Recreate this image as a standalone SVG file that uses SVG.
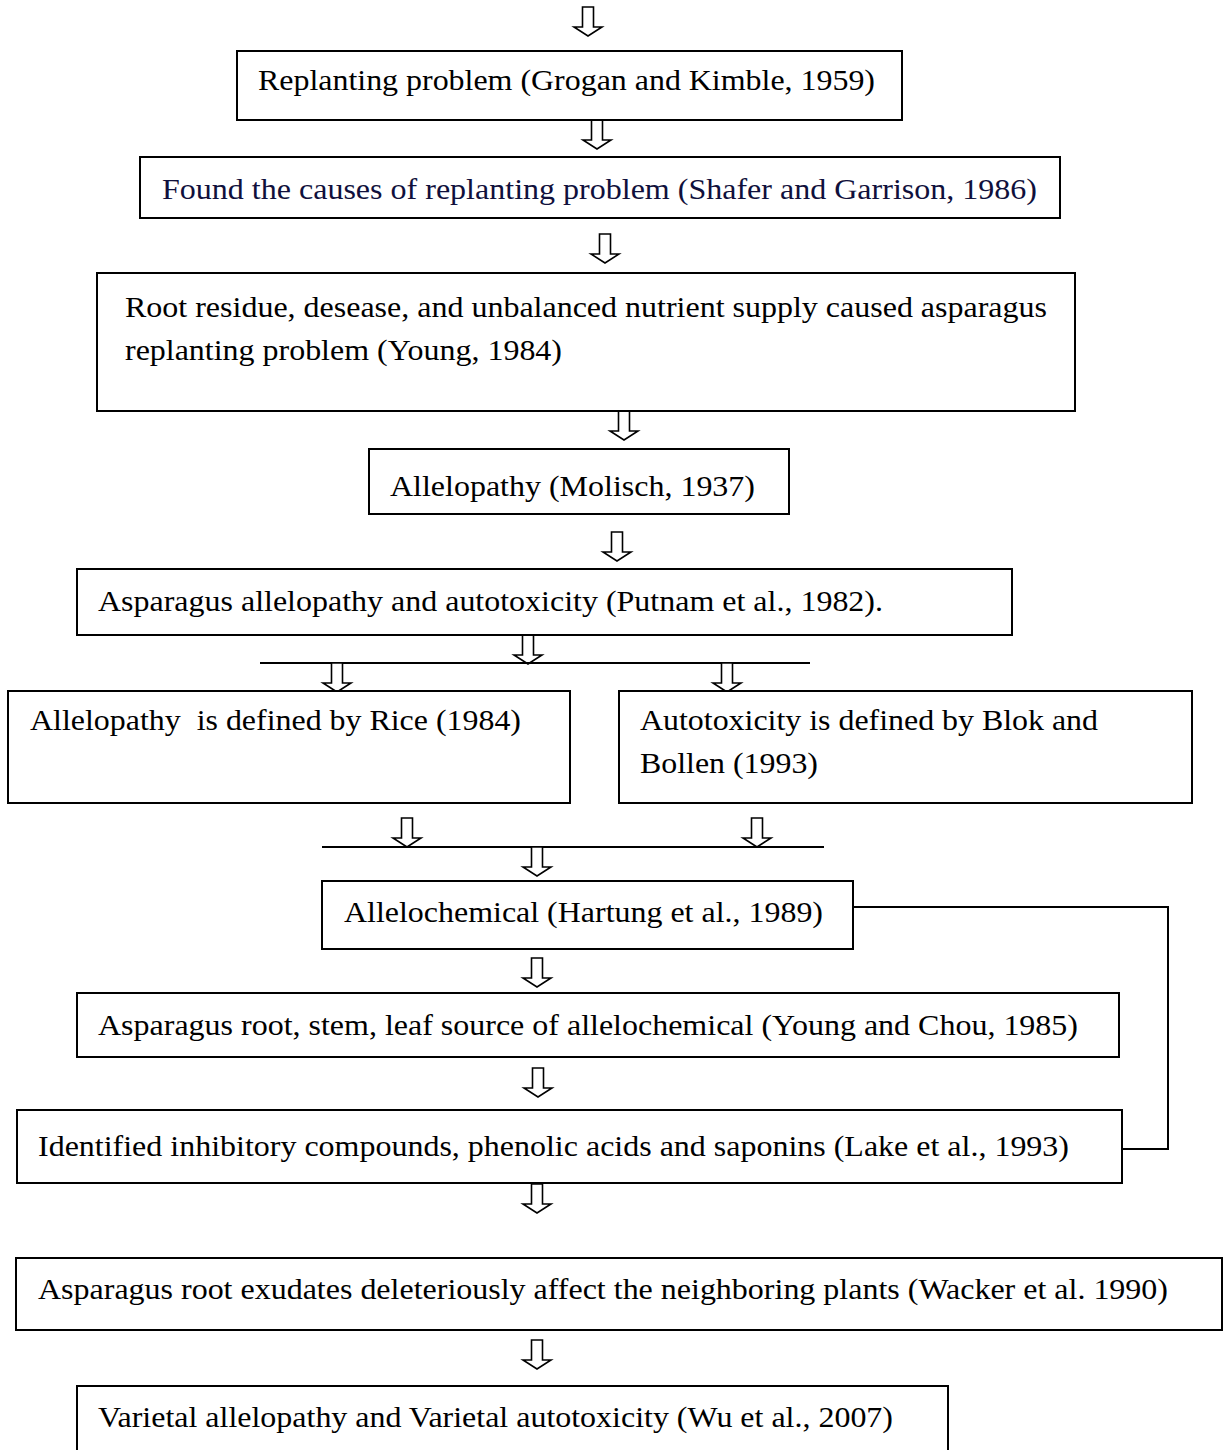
<svg xmlns="http://www.w3.org/2000/svg" xmlns:xlink="http://www.w3.org/1999/xlink" width="1229" height="1450" viewBox="0 0 1229 1450">
<style>
.box{fill:#fff;stroke:#000;stroke-width:2}
.t{font-family:"Liberation Serif","Times New Roman",serif;font-size:30px;fill:#000}
.navy{fill:#10103c}
.ln{fill:none;stroke:#000;stroke-width:2}
.ar{fill:#fff;stroke:#000;stroke-width:1.6;stroke-linejoin:miter}
</style>
<defs>
<path id="arr" d="M-5.5,0 H5.5 V20 H14 L0,29 L-14,20 H-5.5 Z"/>
</defs>
<rect width="1229" height="1450" fill="#fff"/>
<g id="connectors">
<use xlink:href="#arr" class="ar" x="588" y="7"/>
<use xlink:href="#arr" class="ar" x="597" y="120"/>
<use xlink:href="#arr" class="ar" x="605" y="234"/>
<use xlink:href="#arr" class="ar" x="624" y="411"/>
<use xlink:href="#arr" class="ar" x="617" y="532"/>
<use xlink:href="#arr" class="ar" x="528" y="635"/>
<line class="ln" x1="260" y1="663" x2="810" y2="663"/>
<use xlink:href="#arr" class="ar" x="337" y="663"/>
<use xlink:href="#arr" class="ar" x="727" y="663"/>
<use xlink:href="#arr" class="ar" x="407" y="818"/>
<use xlink:href="#arr" class="ar" x="757" y="818"/>
<line class="ln" x1="322" y1="847" x2="824" y2="847"/>
<use xlink:href="#arr" class="ar" x="537" y="847"/>
<use xlink:href="#arr" class="ar" x="537" y="958"/>
<use xlink:href="#arr" class="ar" x="538" y="1068"/>
<use xlink:href="#arr" class="ar" x="537" y="1184"/>
<use xlink:href="#arr" class="ar" x="537" y="1340"/>
<polyline class="ln" points="853,907 1168,907 1168,1149 1122,1149"/>
</g>
<g id="n1"><rect class="box" x="237" y="51" width="665" height="69"/><text class="t" x="258" y="90" textLength="617" lengthAdjust="spacingAndGlyphs">Replanting problem (Grogan and Kimble, 1959)</text></g>
<g id="n2"><rect class="box" x="140" y="157" width="920" height="61"/><text class="t navy" x="162" y="199" textLength="875" lengthAdjust="spacingAndGlyphs">Found the causes of replanting problem (Shafer and Garrison, 1986)</text></g>
<g id="n3"><rect class="box" x="97" y="273" width="978" height="138"/><text class="t" x="125" y="317" textLength="922" lengthAdjust="spacingAndGlyphs">Root residue, desease, and unbalanced nutrient supply caused asparagus</text><text class="t" x="125" y="360" textLength="437" lengthAdjust="spacingAndGlyphs">replanting problem (Young, 1984)</text></g>
<g id="n4"><rect class="box" x="369" y="449" width="420" height="65"/><text class="t" x="390" y="496" textLength="365" lengthAdjust="spacingAndGlyphs">Allelopathy (Molisch, 1937)</text></g>
<g id="n5"><rect class="box" x="77" y="569" width="935" height="66"/><text class="t" x="98" y="611" textLength="785" lengthAdjust="spacingAndGlyphs">Asparagus allelopathy and autotoxicity (Putnam et al., 1982).</text></g>
<g id="n6"><rect class="box" x="8" y="691" width="562" height="112"/><text class="t" x="30" y="730" xml:space="preserve" textLength="491" lengthAdjust="spacingAndGlyphs">Allelopathy  is defined by Rice (1984)</text></g>
<g id="n7"><rect class="box" x="619" y="691" width="573" height="112"/><text class="t" x="640" y="730" textLength="458" lengthAdjust="spacingAndGlyphs">Autotoxicity is defined by Blok and</text><text class="t" x="640" y="773" textLength="178" lengthAdjust="spacingAndGlyphs">Bollen (1993)</text></g>
<g id="n8"><rect class="box" x="322" y="881" width="531" height="68"/><text class="t" x="344" y="922" textLength="479" lengthAdjust="spacingAndGlyphs">Allelochemical (Hartung et al., 1989)</text></g>
<g id="n9"><rect class="box" x="77" y="993" width="1042" height="64"/><text class="t" x="98" y="1035" textLength="980" lengthAdjust="spacingAndGlyphs">Asparagus root, stem, leaf source of allelochemical (Young and Chou, 1985)</text></g>
<g id="n10"><rect class="box" x="17" y="1110" width="1105" height="73"/><text class="t" x="38" y="1156" textLength="1031" lengthAdjust="spacingAndGlyphs">Identified inhibitory compounds, phenolic acids and saponins (Lake et al., 1993)</text></g>
<g id="n11"><rect class="box" x="16" y="1258" width="1206" height="72"/><text class="t" x="38" y="1299" textLength="1130" lengthAdjust="spacingAndGlyphs">Asparagus root exudates deleteriously affect the neighboring plants (Wacker et al. 1990)</text></g>
<g id="n12"><rect class="box" x="77" y="1386" width="871" height="84"/><text class="t" x="98" y="1427" textLength="795" lengthAdjust="spacingAndGlyphs">Varietal allelopathy and Varietal autotoxicity (Wu et al., 2007)</text></g>
</svg>
